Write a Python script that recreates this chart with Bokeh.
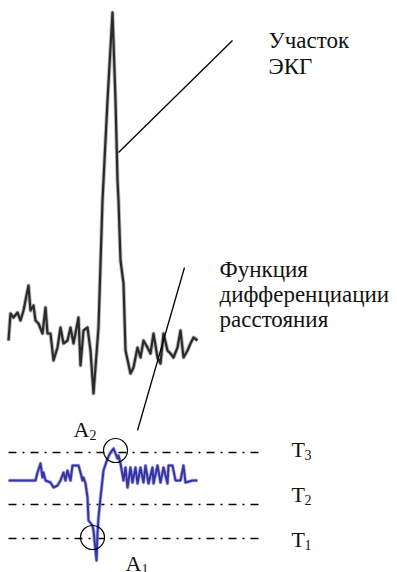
from bokeh.plotting import figure
from bokeh.models import Range1d
from bokeh.embed import file_html
from bokeh.resources import INLINE
from bokeh.core.properties import value

# ECG segment (x, y in picture units, y downwards)
ecg_x = [8, 10, 13, 17, 20, 23, 28, 30, 33, 35, 38, 42, 45, 47, 50, 53, 57, 60, 63, 67,
         70, 73, 78, 80, 83, 87, 90, 93, 98, 102, 107, 112, 115, 117, 118, 120, 123, 125,
         130, 133, 137, 140, 143, 147, 150, 153, 157, 160, 163, 167, 170, 173, 177, 180,
         183, 187, 190, 193, 197]
ecg_y = [340, 313, 317, 312, 320, 310, 285, 310, 305, 320, 323, 333, 307, 333, 333, 360,
         347, 327, 343, 340, 327, 343, 317, 365, 330, 327, 350, 393, 327, 200, 100, 12,
         100, 180, 200, 260, 283, 350, 373, 367, 347, 357, 340, 347, 353, 333, 357, 363,
         333, 350, 353, 357, 347, 330, 357, 350, 343, 337, 340]

# distance differentiation function
diff_x = [8, 35, 37, 40, 42, 43, 45, 50, 53, 57, 60, 63, 65, 67, 70, 72, 78, 80, 82, 83,
          85, 87, 88, 92, 93, 96, 97, 98, 100, 103, 107, 110, 113, 115, 117, 118, 120,
          123, 125, 127, 130, 132, 135, 137, 140, 143, 145, 148, 152, 153, 157, 160, 163,
          167, 168, 172, 175, 180, 183, 185, 192, 197]
diff_y = [480, 480, 472, 463, 477, 472, 480, 482, 487, 485, 480, 472, 480, 470, 480, 465,
          465, 472, 480, 477, 483, 497, 520, 525, 530, 560, 533, 517, 497, 470, 458, 452,
          448, 453, 458, 455, 463, 480, 467, 487, 467, 482, 467, 483, 467, 482, 465, 483,
          467, 483, 465, 482, 467, 483, 465, 465, 480, 480, 465, 482, 480, 480]

# thresholds
thr_y = [452, 504, 538]
thr_labels = ["T", "T", "T"]
thr_subs = ["3", "2", "1"]
thr_x0 = 8
thr_x1 = 263

p = figure(width=397, height=572, output_backend="svg", toolbar_location=None,
           x_range=Range1d(0, 397), y_range=Range1d(572, 0),
           x_axis_type=None, y_axis_type=None, min_border=0)
p.outline_line_color = None
p.grid.visible = False
p.background_fill_color = "white"
p.border_fill_color = "white"

# ECG trace
p.line(ecg_x, ecg_y, line_color="#a8a8a8", line_width=4.0, line_alpha=0.8, line_join="round")
p.line(ecg_x, ecg_y, line_color="#2a2a2a", line_width=2.2, line_join="round")

# threshold lines
for ty in thr_y:
    p.line([thr_x0, thr_x1], [ty, ty], line_color="black", line_width=1.5,
           line_dash="8 6 2 6")

# differentiation trace
p.line(diff_x, diff_y, line_color="#9090d0", line_width=3.6, line_alpha=0.7, line_join="round")
p.line(diff_x, diff_y, line_color="#3434a4", line_width=2.0, line_join="round")

# circles at A2 and A1
p.circle(x=[115, 92], y=[450, 537], radius=12, fill_color=None,
         line_color="black", line_width=1.2)

# leader lines
p.line([118, 232], [152, 40], line_color="black", line_width=1.3)
p.line([184, 137], [267, 430], line_color="black", line_width=1.3)

serif = value("Liberation Serif")
dy = -8  # correction of the rendered text baseline
p.text(x=[268, 268], y=[48 + dy, 74 + dy], text=["Участок", "ЭКГ"], text_font=serif,
       text_font_size="23px", text_color="#111", text_baseline="alphabetic")
p.text(x=[219, 219, 219], y=[277 + dy, 302 + dy, 327 + dy],
       text=["Функция", "дифференциации", "расстояния"], text_font=serif,
       text_font_size="23px", text_color="#111", text_baseline="alphabetic")

# threshold labels
p.text(x=[291] * 3, y=[457 + dy, 502 + dy, 547 + dy], text=thr_labels, text_font=serif,
       text_font_size="22px", text_color="#111", text_baseline="alphabetic")
p.text(x=[304] * 3, y=[462 + dy, 507 + dy, 552 + dy], text=thr_subs, text_font=serif,
       text_font_size="14px", text_color="#111", text_baseline="alphabetic")

# A labels
p.text(x=[73, 125], y=[437 + dy, 571 + dy], text=["A", "A"], text_font=serif,
       text_font_size="22px", text_color="#111", text_baseline="alphabetic")
p.text(x=[89, 141], y=[442 + dy, 576 + dy], text=["2", "1"], text_font=serif,
       text_font_size="14px", text_color="#111", text_baseline="alphabetic")

open("out.html", "w").write(file_html(p, INLINE))
